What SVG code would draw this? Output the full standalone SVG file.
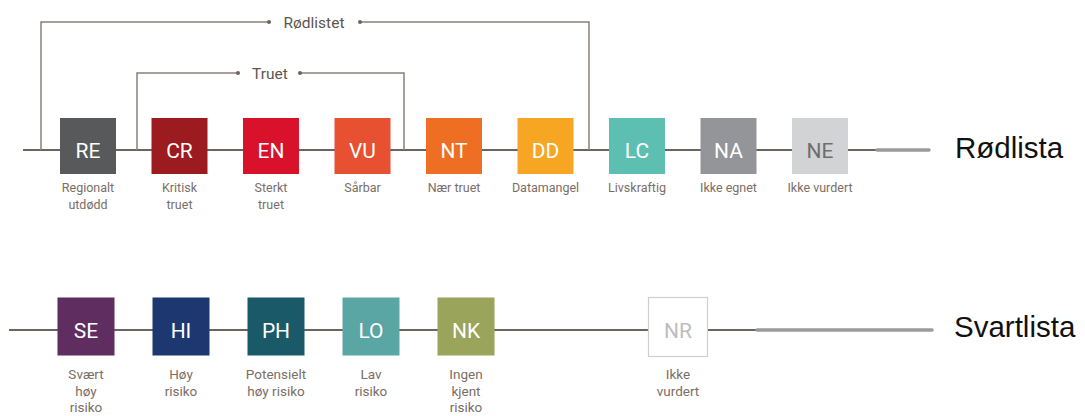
<svg xmlns="http://www.w3.org/2000/svg" width="1085" height="416" viewBox="0 0 1085 416">
<style>
.ln{stroke:#6e645c;stroke-width:2;fill:none}
.br{stroke:#8a807a;stroke-width:1.5;fill:none}
.ext{stroke:#9a9a9a;stroke-width:3.5;stroke-linecap:round;fill:none}
.dot{fill:#6e645c}
.bx{stroke:none}
.code{font-family:Roboto,"Liberation Sans",sans-serif;font-size:21px;fill:#fff;text-anchor:middle}
.lbl{font-family:Roboto,"Liberation Sans",sans-serif;font-size:12.5px;fill:#7a6e66;text-anchor:middle}
.lbl2{font-family:Roboto,"Liberation Sans",sans-serif;font-size:13.5px;fill:#7a6e66;text-anchor:middle}
.brl{font-family:Roboto,"Liberation Sans",sans-serif;font-size:15.5px;fill:#5e5650;text-anchor:middle}
.big{font-family:"Liberation Sans",Arial,sans-serif;font-size:29.5px;fill:#111}
</style>
<g id="connectors">
<line class="ln" x1="23" y1="150" x2="877" y2="150"/>
<line class="ext" x1="877" y1="150" x2="929" y2="150"/>
<line class="ln" x1="9" y1="330" x2="757" y2="330"/>
<line class="ext" x1="757" y1="330" x2="932" y2="330"/>
<polyline class="br" points="41,150 41,22 269,22"/>
<polyline class="br" points="360,22 589,22 589,150"/>
<circle class="dot" cx="269" cy="22" r="2"/>
<circle class="dot" cx="360" cy="22" r="2"/>
<polyline class="br" points="137,150 137,73 238,73"/>
<polyline class="br" points="300,73 404,73 404,150"/>
<circle class="dot" cx="238" cy="73" r="2"/>
<circle class="dot" cx="300" cy="73" r="2"/>
</g>
<g id="label-rodlistet"><text class="brl" x="314" y="28">Rødlistet</text></g>
<g id="label-truet"><text class="brl" x="270" y="79">Truet</text></g>
<g id="node-RE"><rect class="bx" x="60" y="118" width="56" height="56" fill="#58595b"/><text class="code" x="88" y="157.5">RE</text><text class="lbl" x="88" y="192">Regionalt</text><text class="lbl" x="88" y="209">utdødd</text></g>
<g id="node-CR"><rect class="bx" x="151.5" y="118" width="56" height="56" fill="#9b1b1e"/><text class="code" x="179.5" y="157.5">CR</text><text class="lbl" x="179.5" y="192">Kritisk</text><text class="lbl" x="179.5" y="209">truet</text></g>
<g id="node-EN"><rect class="bx" x="243" y="118" width="56" height="56" fill="#d9112a"/><text class="code" x="271" y="157.5">EN</text><text class="lbl" x="271" y="192">Sterkt</text><text class="lbl" x="271" y="209">truet</text></g>
<g id="node-VU"><rect class="bx" x="334.5" y="118" width="56" height="56" fill="#e85032"/><text class="code" x="362.5" y="157.5">VU</text><text class="lbl" x="362.5" y="192">Sårbar</text></g>
<g id="node-NT"><rect class="bx" x="426" y="118" width="56" height="56" fill="#ee6f24"/><text class="code" x="454" y="157.5">NT</text><text class="lbl" x="454" y="192">Nær truet</text></g>
<g id="node-DD"><rect class="bx" x="517.5" y="118" width="56" height="56" fill="#f6a623"/><text class="code" x="545.5" y="157.5">DD</text><text class="lbl" x="545.5" y="192">Datamangel</text></g>
<g id="node-LC"><rect class="bx" x="609" y="118" width="56" height="56" fill="#5dbfb1"/><text class="code" x="637" y="157.5">LC</text><text class="lbl" x="637" y="192">Livskraftig</text></g>
<g id="node-NA"><rect class="bx" x="700.5" y="118" width="56" height="56" fill="#939598"/><text class="code" x="728.5" y="157.5">NA</text><text class="lbl" x="728.5" y="192">Ikke egnet</text></g>
<g id="node-NE"><rect class="bx" x="792" y="118" width="56" height="56" fill="#d1d3d4"/><text class="code" x="820" y="157.5" style="fill:#6d6e71">NE</text><text class="lbl" x="820" y="192">Ikke vurdert</text></g>
<g id="title-rodlista"><text class="big" x="955" y="158">Rødlista</text></g>
<g id="node-SE"><rect class="bx" x="57.5" y="297.5" width="57" height="58" fill="#5f2d5f"/><text class="code" x="86" y="338">SE</text><text class="lbl2" x="86" y="379">Svært</text><text class="lbl2" x="86" y="396">høy</text><text class="lbl2" x="86" y="412">risiko</text></g>
<g id="node-HI"><rect class="bx" x="152.5" y="297.5" width="57" height="58" fill="#1d3870"/><text class="code" x="181" y="338">HI</text><text class="lbl2" x="181" y="379">Høy</text><text class="lbl2" x="181" y="396">risiko</text></g>
<g id="node-PH"><rect class="bx" x="247.5" y="297.5" width="57" height="58" fill="#1a5a68"/><text class="code" x="276" y="338">PH</text><text class="lbl2" x="276" y="379">Potensielt</text><text class="lbl2" x="276" y="396">høy risiko</text></g>
<g id="node-LO"><rect class="bx" x="342.5" y="297.5" width="57" height="58" fill="#5aa6a4"/><text class="code" x="371" y="338">LO</text><text class="lbl2" x="371" y="379">Lav</text><text class="lbl2" x="371" y="396">risiko</text></g>
<g id="node-NK"><rect class="bx" x="437.5" y="297.5" width="57" height="58" fill="#9aa45a"/><text class="code" x="466" y="338">NK</text><text class="lbl2" x="466" y="379">Ingen</text><text class="lbl2" x="466" y="396">kjent</text><text class="lbl2" x="466" y="412">risiko</text></g>
<g id="node-NR"><rect x="648.5" y="297.5" width="59" height="59" fill="#fff" stroke="#cfcfcf" stroke-width="1.2"/><text class="code" x="678" y="338" style="fill:#bdbdbd">NR</text><text class="lbl2" x="678" y="379">Ikke</text><text class="lbl2" x="678" y="396">vurdert</text></g>
<g id="title-svartlista"><text class="big" x="954" y="337">Svartlista</text></g>
</svg>
